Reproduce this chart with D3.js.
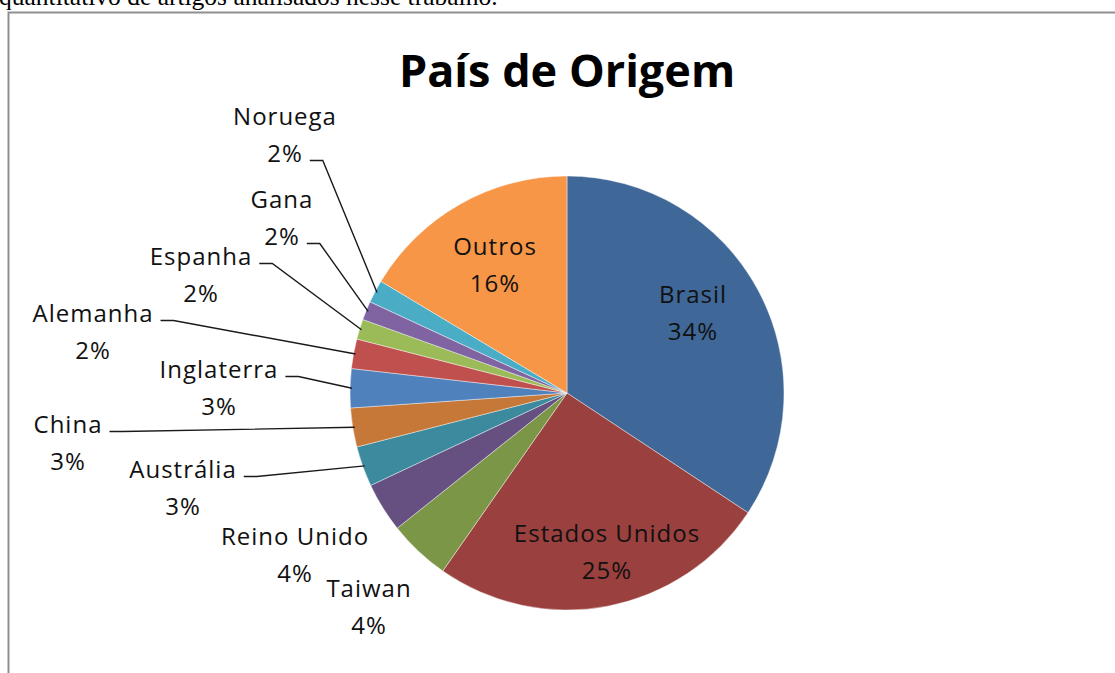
<!DOCTYPE html>
<html>
<head>
<meta charset="utf-8">
<script src="https://cdn.jsdelivr.net/npm/d3@7"></script>
<style>
  html, body { margin: 0; padding: 0; background: #fff; overflow: hidden; }
</style>
</head>
<body>
<div id="chart"></div>
<script>
// data (share of articles, %)
const countries = ["Brasil", "Estados Unidos", "Taiwan", "Reino Unido", "Austrália", "China",
                   "Inglaterra", "Alemanha", "Espanha", "Gana", "Noruega", "Outros"];
const shares = [34.3, 25.4, 4.6, 3.7, 3.0, 2.9, 2.9, 2.2, 1.5, 1.4, 1.7, 16.4];
const pctLabels = ["34%", "25%", "4%", "4%", "3%", "3%", "3%", "2%", "2%", "2%", "2%", "16%"];

const colors = ["#3f6797", "#9a403e", "#7c9647", "#665082", "#3c8a9e", "#c67838",
                "#4f81bd", "#c0504d", "#9bbb59", "#8064a2", "#4bacc6", "#f79646"];

// label placement (offset of first line from pie centre) and which line gets the leader
const labelOffsets = [[126, -90], [40, 149], [-198, 204], [-272, 152], [-384, 85], [-499, 40],
                      [-348, -15], [-474, -71], [-366, -128], [-285, -185], [-282, -268], [-72, -138]];
const leaderLine = [0, 0, 0, 0, 1, 1, 1, 1, 1, 2, 2, 0];

const width = 1115, height = 673;
const cx = 567, cy = 393, r = 217;
const lineGap = 37;

const svg = d3.select("#chart").append("svg")
    .attr("width", width)
    .attr("height", height);

// clipped paragraph text above the chart
svg.append("text")
    .attr("x", -1)
    .attr("y", 4.5)
    .attr("font-family", "Liberation Serif, Times New Roman, serif")
    .attr("font-size", 25.5)
    .attr("fill", "#000")
    .text("quantitativo de artigos analisados nesse trabalho.");

// chart frame (only top and left visible)
svg.append("path")
    .attr("d", `M8.5,${height} V12.5 H${width}`)
    .attr("fill", "none")
    .attr("stroke", "#8f8f8f")
    .attr("stroke-width", 2);

svg.append("text")
    .attr("x", cx)
    .attr("y", 87)
    .attr("text-anchor", "middle")
    .attr("font-family", "Open Sans, sans-serif")
    .attr("font-weight", "bold")
    .attr("font-size", 45)
    .attr("fill", "#000")
    .text("País de Origem");

const data = countries.map((c, i) => ({ name: c, value: shares[i], pct: pctLabels[i], i: i }));

const pie = d3.pie().sort(null).value(d => d.value);
const arcs = pie(data);
const arc = d3.arc().innerRadius(0).outerRadius(r);

const g = svg.append("g").attr("transform", `translate(${cx},${cy})`);

g.selectAll("path.slice")
    .data(arcs)
    .join("path")
    .attr("class", "slice")
    .attr("d", arc)
    .attr("fill", d => colors[d.data.i])
    .attr("stroke", "#fff")
    .attr("stroke-opacity", 0.6)
    .attr("stroke-width", 0.7);

const labels = g.selectAll("g.label")
    .data(arcs)
    .join("g")
    .attr("class", "label")
    .attr("font-family", "Open Sans, sans-serif")
    .attr("font-size", 24)
    .attr("letter-spacing", 1)
    .attr("fill", "#111")
    .attr("text-anchor", "middle");

labels.append("text")
    .attr("class", "l1")
    .attr("x", d => labelOffsets[d.data.i][0])
    .attr("y", d => labelOffsets[d.data.i][1])
    .text(d => d.data.name);

labels.append("text")
    .attr("class", "l2")
    .attr("x", d => labelOffsets[d.data.i][0])
    .attr("y", d => labelOffsets[d.data.i][1] + lineGap)
    .text(d => d.data.pct);

// leader lines from the label to the middle of the slice edge
labels.each(function(d) {
    const which = leaderLine[d.data.i];
    if (!which) return;
    const t = d3.select(this).select(which === 1 ? "text.l1" : "text.l2");
    const w = t.node().getComputedTextLength();
    const x0 = +t.attr("x") + w / 2 + 7;
    const y0 = +t.attr("y") - 1.5;
    const mid = (d.startAngle + d.endAngle) / 2;
    const x2 = Math.sin(mid) * (r - 2), y2 = -Math.cos(mid) * (r - 2);
    d3.select(this).append("path")
        .attr("d", `M${x0},${y0} H${x0 + 13} L${x2},${y2}`)
        .attr("fill", "none")
        .attr("stroke", "#1a1a1a")
        .attr("stroke-width", 1.4);
});
</script>
</body>
</html>
